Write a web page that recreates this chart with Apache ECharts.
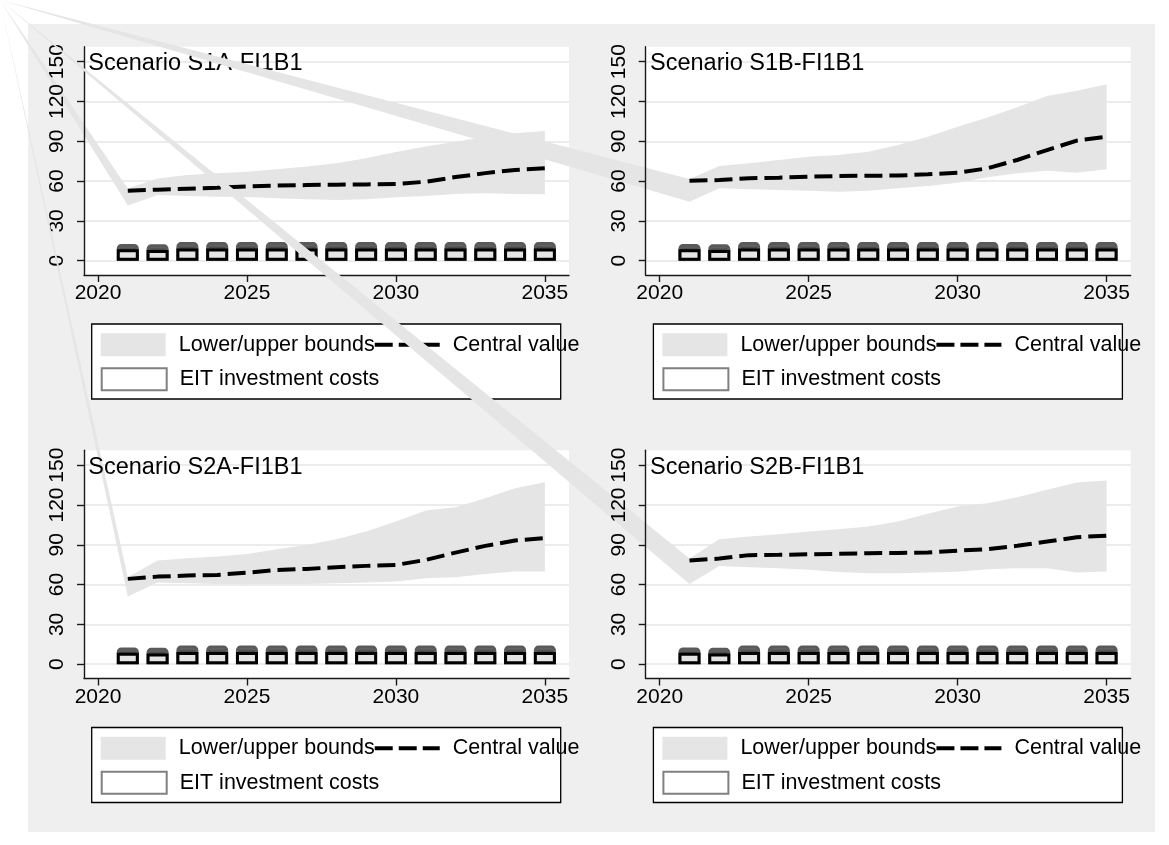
<!DOCTYPE html>
<html>
<head>
<meta charset="utf-8">
<script src="https://cdn.jsdelivr.net/npm/echarts@6/dist/echarts.min.js"></script>
<style>
html,body{margin:0;padding:0;background:#ffffff;}
#chart{width:1169px;height:845px;}
</style>
</head>
<body>
<div id="chart"></div>
<script>
// ---------------- data ----------------
const years = [2021, 2022, 2023, 2024, 2025, 2026, 2027, 2028, 2029, 2030, 2031, 2032, 2033, 2034, 2035];
const panelTitles = ['Scenario S1A-FI1B1', 'Scenario S1B-FI1B1', 'Scenario S2A-FI1B1', 'Scenario S2B-FI1B1'];

const s1aCentral = [52.8, 53.5, 54.3, 55.0, 56.0, 56.6, 57.0, 57.3, 57.5, 57.8, 59.5, 63.0, 66.0, 68.4, 69.6];
const s1aUpper   = [54.5, 62.0, 64.6, 65.9, 67.0, 68.9, 70.9, 73.4, 77.2, 82.0, 86.0, 89.7, 93.5, 96.0, 97.8];
const s1aLower   = [41.5, 49.5, 48.8, 48.2, 48.0, 47.0, 46.3, 45.8, 46.3, 47.8, 48.8, 50.3, 50.8, 50.3, 50.0];

const s1bCentral = [60.3, 60.8, 62.1, 62.6, 63.3, 63.8, 64.0, 64.2, 65.1, 66.3, 69.6, 75.9, 83.4, 90.5, 93.5];
const s1bUpper   = [61.5, 71.4, 73.4, 75.9, 78.4, 79.7, 82.2, 87.2, 93.5, 101.0, 108.0, 115.6, 124.1, 128.1, 133.0];
const s1bLower   = [44.5, 54.6, 53.8, 53.3, 52.8, 52.0, 52.8, 54.6, 56.3, 58.8, 62.9, 65.9, 67.8, 66.3, 68.9];

const s2aCentral = [64.3, 66.0, 66.8, 67.3, 69.0, 71.0, 71.8, 73.1, 74.1, 74.8, 78.6, 84.1, 89.2, 93.2, 95.0];
const s2aUpper   = [65.5, 78.1, 79.9, 81.1, 83.1, 86.7, 89.9, 94.2, 100.0, 107.5, 115.8, 118.3, 125.1, 132.7, 137.2];
const s2aLower   = [51.0, 61.5, 61.0, 60.5, 60.2, 60.2, 60.5, 61.0, 61.5, 62.3, 64.8, 65.6, 68.0, 69.8, 69.8];

const s2bCentral = [78.1, 79.6, 82.2, 82.4, 82.9, 83.2, 83.7, 83.9, 84.1, 85.6, 86.7, 89.2, 92.4, 95.7, 96.9];
const s2bUpper   = [79.6, 94.2, 96.2, 98.0, 100.0, 101.8, 103.7, 107.5, 113.3, 118.8, 121.3, 125.9, 131.4, 136.9, 138.4];
const s2bLower   = [60.5, 74.1, 73.1, 72.4, 71.1, 69.4, 68.6, 68.6, 69.1, 69.6, 71.6, 72.4, 72.4, 69.1, 69.8];

const eitCost     = [8.6, 8.0, 9.2, 9.2, 9.2, 9.2, 9.2, 9.2, 9.2, 9.2, 9.2, 9.2, 9.2, 9.2, 9.2];
const eitCostHigh = [12.6, 12.3, 14.0, 14.0, 14.0, 14.0, 14.0, 14.0, 14.0, 14.0, 14.0, 14.0, 14.0, 14.0, 14.0];

const yTickValues = [0, 30, 60, 90, 120, 150];
const xTickValues = [2020, 2025, 2030, 2035];
const legendLabels = ['Lower/upper bounds', 'Central value', 'EIT investment costs'];

const centralSets = [s1aCentral, s1bCentral, s2aCentral, s2bCentral];
const upperSets = [s1aUpper, s1bUpper, s2aUpper, s2bUpper];
const lowerSets = [s1aLower, s1bLower, s2aLower, s2bLower];

// ---------------- layout / style ----------------
const FONT = "'Liberation Sans', Arial, sans-serif";
const panelPos = [
  {left: 84, top: 46.7},
  {left: 645.7, top: 46.7},
  {left: 84, top: 450.2},
  {left: 645.7, top: 450.2}
];
const plotW = 485, plotH = 228.3;
const BAND = '#e5e5e5';
const GRID_LINE = '#e6e6e6';
const AXIS_COLOR = '#1a1a1a';
const X_MIN = 2019.53, X_MAX = 2035.81, Y_MIN = -10.8, Y_MAX = 161.3;

const chart = echarts.init(document.getElementById('chart'), null, {renderer: 'canvas'});

const grids = [], xAxes = [], yAxes = [], series = [], titles = [], legends = [], graphics = [];

graphics.push({
  type: 'rect', z: -100, silent: true,
  shape: {x: 28, y: 24, width: 1127, height: 808},
  style: {fill: '#efefef'}
});

panelPos.forEach((p, i) => {
  const base = i * 10;
  grids.push({
    left: p.left, top: p.top, width: plotW, height: plotH,
    show: true, backgroundColor: '#ffffff', borderWidth: 0, z: base
  });
  // x axis (index 2i: plotting axis; index 2i+1 unused duplicate not needed)
  xAxes.push({
    type: 'value', gridIndex: i, min: X_MIN, max: X_MAX, position: 'bottom', z: base + 8,
    axisLine: {show: true, onZero: false, lineStyle: {color: AXIS_COLOR, width: 1.4}},
    axisTick: {show: true, length: 7, customValues: xTickValues, lineStyle: {color: AXIS_COLOR, width: 1.4}},
    axisLabel: {customValues: xTickValues, margin: 8, fontSize: 21, lineHeight: 21, color: '#000', fontFamily: FONT,
      formatter: v => String(v)},
    splitLine: {show: false}
  });
  // y axis used by the series: gridlines only (drawn beneath the marks)
  yAxes.push({
    type: 'value', gridIndex: i, min: Y_MIN, max: Y_MAX, position: 'left', z: base + 1,
    axisLine: {show: false, onZero: false},
    axisTick: {show: false, customValues: yTickValues},
    axisLabel: {show: false, customValues: yTickValues},
    splitLine: {show: true, lineStyle: {color: GRID_LINE, width: 1.6}}
  });
  // y axis line, ticks and labels (drawn above the panel's own marks)
  yAxes.push({
    type: 'value', gridIndex: i, min: Y_MIN, max: Y_MAX, position: 'left', offset: 0, z: base + 8,
    axisLine: {show: true, onZero: false, lineStyle: {color: AXIS_COLOR, width: 1.4}},
    axisTick: {show: true, length: 7, customValues: yTickValues, lineStyle: {color: AXIS_COLOR, width: 1.4}},
    axisLabel: {customValues: yTickValues, rotate: 90, margin: 16, fontSize: 21, lineHeight: 21, color: '#000', fontFamily: FONT,
      formatter: v => String(v)},
    splitLine: {show: false}
  });

  const yi = 2 * i;
  const up = upperSets[i], lo = lowerSets[i], ce = centralSets[i];

  // Lower/upper bound band (with the polygon-closure artifact to the page origin, as in the source image)
  series.push({
    type: 'custom', name: legendLabels[0], xAxisIndex: i, yAxisIndex: yi, z: base + 2, clip: false, silent: true,
    itemStyle: {color: BAND},
    data: years.map((y, k) => [y, lo[k], up[k]]),
    renderItem: (params, api) => {
      if (params.dataIndex !== 0) return null;
      const pts = [];
      for (let k = 0; k < years.length; k++) pts.push(api.coord([years[k], up[k]]));
      for (let k = years.length - 1; k >= 0; k--) pts.push(api.coord([years[k], lo[k]]));
      pts.push([0, 0]);
      return {type: 'polygon', shape: {points: pts}, style: {fill: BAND}};
    }
  });

  // Central value
  series.push({
    type: 'line', name: legendLabels[1], xAxisIndex: i, yAxisIndex: yi, z: base + 3,
    data: years.map((y, k) => [y, ce[k]]),
    symbol: 'none', silent: true,
    itemStyle: {color: '#000'},
    lineStyle: {color: '#000', width: 4, type: [18, 7], cap: 'butt'}
  });

  // EIT investment costs: upper cap
  series.push({
    type: 'bar', name: 'EIT investment costs (upper)', xAxisIndex: i, yAxisIndex: yi, z: base + 4,
    data: years.map((y, k) => [y, eitCostHigh[k]]),
    barWidth: 22, barGap: '-100%', silent: true,
    itemStyle: {
      color: new echarts.graphic.LinearGradient(0, 0, 0, 1, [
        {offset: 0, color: '#8e8e8e'}, {offset: 0.3, color: '#4a4a4a'}, {offset: 1, color: '#3a3a3a'}
      ]),
      borderColor: '#5a5a5a', borderWidth: 3, borderRadius: [3, 3, 0, 0]
    }
  });
  // EIT investment costs: box
  series.push({
    type: 'bar', name: legendLabels[2], xAxisIndex: i, yAxisIndex: yi, z: base + 5,
    data: years.map((y, k) => [y, eitCost[k]]),
    barWidth: 22, barGap: '-100%', silent: true,
    itemStyle: {color: BAND, borderColor: '#000', borderWidth: 3}
  });

  titles.push({
    text: panelTitles[i], left: p.left + 4.3, top: p.top + 5.3, padding: 0, z: base + 6,
    textStyle: {fontSize: 23.5, lineHeight: 23.5, fontWeight: 'normal', color: '#000', fontFamily: FONT}
  });

  const lx = p.left + 7.7, ly = p.top + 277.3;
  graphics.push({
    type: 'rect', z: base + 6, silent: true,
    shape: {x: lx, y: ly, width: 469, height: 75},
    style: {fill: '#ffffff', stroke: '#000', lineWidth: 1.3}
  });
  const legendText = {fontSize: 21.5, lineHeight: 23, color: '#000', fontFamily: FONT, padding: [0, 0, 0, 8]};
  legends.push({
    left: lx + 9, top: ly + 9.3, orient: 'horizontal', padding: 0, itemGap: -2,
    itemWidth: 65, itemHeight: 23, selectedMode: false, z: base + 7,
    textStyle: legendText,
    data: [
      {name: legendLabels[0], icon: 'rect', itemStyle: {color: BAND, borderWidth: 0}},
      {name: legendLabels[1], itemStyle: {color: 'rgba(0,0,0,0)', borderWidth: 0, opacity: 0},
        lineStyle: {color: '#000', width: 4, type: [18, 6], cap: 'butt', opacity: 1}}
    ]
  });
  legends.push({
    left: lx + 9, top: ly + 43.3, orient: 'horizontal', padding: 0,
    itemWidth: 65, itemHeight: 22, selectedMode: false, z: base + 7,
    textStyle: legendText,
    data: [
      {name: legendLabels[2], icon: 'rect', itemStyle: {color: '#ffffff', borderColor: '#808080', borderWidth: 2}}
    ]
  });
});

chart.setOption({
  animation: false,
  backgroundColor: '#ffffff',
  textStyle: {fontFamily: FONT},
  graphic: graphics,
  title: titles,
  legend: legends,
  grid: grids,
  xAxis: xAxes,
  yAxis: yAxes,
  series: series
});
</script>
</body>
</html>
